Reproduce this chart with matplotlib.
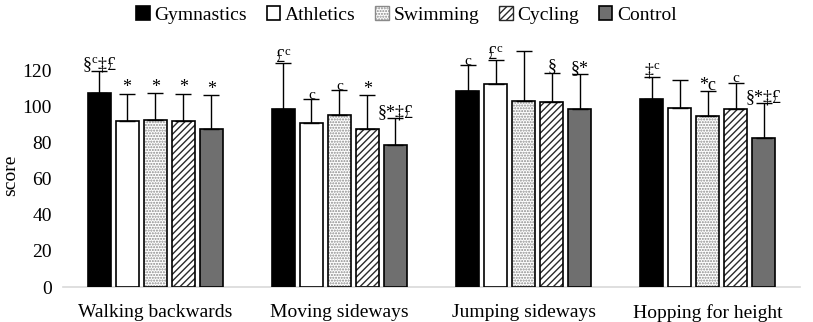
import matplotlib
matplotlib.use("Agg")
import matplotlib.pyplot as plt
from matplotlib.patches import Patch
import numpy as np

plt.rcParams['font.family'] = ['Liberation Serif', 'DejaVu Serif']
plt.rcParams['mathtext.fontset'] = 'custom'
plt.rcParams['mathtext.rm'] = 'Liberation Serif'
plt.rcParams['mathtext.it'] = 'Liberation Serif:italic'
plt.rcParams['hatch.linewidth'] = 1.0

categories = ["Walking backwards", "Moving sideways", "Jumping sideways", "Hopping for height"]
groups = ["Gymnastics", "Athletics", "Swimming", "Cycling", "Control"]

gymnastics = [107.5, 98.3, 108.6, 104.0]
athletics = [92.0, 90.9, 112.1, 99.2]
swimming = [92.4, 95.1, 103.0, 94.6]
cycling = [92.0, 87.4, 102.5, 98.5]
control = [87.4, 78.5, 98.5, 82.6]

gymnastics_sd = [12.0, 25.4, 14.2, 12.3]
athletics_sd = [15.0, 12.9, 13.4, 15.3]
swimming_sd = [15.0, 13.9, 27.5, 13.8]
cycling_sd = [15.0, 18.8, 16.0, 14.5]
control_sd = [18.6, 14.8, 19.1, 19.0]

gymnastics_sig = [r"§$^{\mathrm{c}}$‡£", r"£$^{\mathrm{c}}$", "c", r"‡$^{\mathrm{c}}$"]
athletics_sig = ["*", "c", r"£$^{\mathrm{c}}$", ""]
swimming_sig = ["*", "c", "", "*c"]
cycling_sig = ["*", "*", "§", "c"]
control_sig = ["*", "§*‡£", "§*", "§*‡£"]

values = [gymnastics, athletics, swimming, cycling, control]
sds = [gymnastics_sd, athletics_sd, swimming_sd, cycling_sd, control_sd]
sigs = [gymnastics_sig, athletics_sig, swimming_sig, cycling_sig, control_sig]

faces = ["black", "white", "white", "white", "#6f6f6f"]
hatches = [None, None, "......", "/////", None]
hatch_colors = [None, None, "#8a8a8a", "#2a2a2a", None]

fig = plt.figure(figsize=(8.13, 3.22), dpi=100)
ax = fig.add_axes([63/813, 1-287/322, (800-63)/813, (287-43)/322])

x = np.arange(len(categories))
slot = 0.152
bw = 0.125
handles = []
for i, (vals, sd) in enumerate(zip(values, sds)):
    pos = x + (i - 2) * slot
    if hatches[i]:
        plt.rcParams['hatch.color'] = hatch_colors[i]
        ax.bar(pos, vals, bw, color='white', edgecolor=hatch_colors[i],
               linewidth=0, hatch=hatches[i], zorder=2)
        ax.bar(pos, vals, bw, facecolor='none', edgecolor='black',
               linewidth=1.2, zorder=3)
        handles.append(Patch(facecolor='white', edgecolor=hatch_colors[i],
                             hatch=hatches[i], linewidth=1.0))
    else:
        h = ax.bar(pos, vals, bw, color=faces[i], edgecolor='black',
                   linewidth=1.2, zorder=3)
        handles.append(h)
    ax.errorbar(pos, vals, yerr=[np.zeros(len(vals)), sd], fmt='none',
                ecolor='black', elinewidth=1.0, capsize=6, capthick=1.0,
                zorder=4, clip_on=False)
    for p, v, s, t in zip(pos, vals, sd, sigs[i]):
        if t:
            fs = 11 if t == "c" else 13
            ax.text(p, v + s - 1.5, t, ha='center', va='bottom', fontsize=fs,
                    zorder=5, clip_on=False)

ax.set_xlim(-0.5, 3.5)
ax.set_ylim(0, 135)
ax.set_yticks(range(0, 121, 20))
ax.set_xticks(x)
ax.set_xticklabels(categories, fontsize=14)
ax.tick_params(axis='y', labelsize=14, length=0, pad=8)
ax.tick_params(axis='x', length=0, pad=12)
for s in ['top', 'right', 'left']:
    ax.spines[s].set_visible(False)
ax.spines['bottom'].set_color('#d9d9d9')
ax.spines['bottom'].set_linewidth(1.2)
fig.text(11/813, 1-175/322, "score", rotation=90, ha='center', va='center',
         fontsize=14)

leg = fig.legend(handles, groups, loc='upper center', bbox_to_anchor=(0.5, 1.035),
                 ncol=5, frameon=False, fontsize=14, handlelength=0.7,
                 handleheight=0.7, handletextpad=0.25, columnspacing=1.0)

fig.savefig("out.png", dpi=100)
